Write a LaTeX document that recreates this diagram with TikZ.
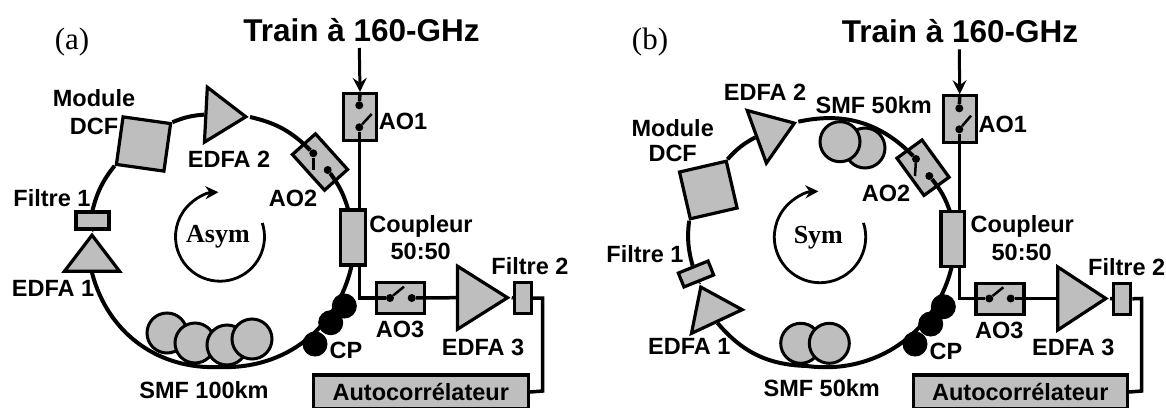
\documentclass[tikz,border=0pt]{standalone}
\usepackage{fontspec}
\setmainfont{Liberation Sans}
\newfontfamily\srf{Liberation Serif}
\usetikzlibrary{shapes.geometric,arrows.meta}
\definecolor{dev}{HTML}{BEBEBE}
\tikzset{
  lbl/.style={inner sep=0,text height=17pt,text depth=0pt,font=\fontsize{23.5}{26}\selectfont\bfseries},
  ttl/.style={inner sep=0,text height=22pt,text depth=0pt,font=\fontsize{31.5}{33}\selectfont\bfseries},
  panel/.style={inner sep=0,font=\srf\fontsize{31}{33}\selectfont},
  modelbl/.style={inner sep=0,font=\srf\fontsize{26}{28}\selectfont\bfseries},
  autolbl/.style={inner sep=0,text height=16.5pt,text depth=0pt,font=\fontsize{23.5}{25}\selectfont\bfseries},
  box/.style={draw,line width=3.2pt,fill=dev,inner sep=0,rectangle},
  tri/.style={draw,line width=3.2pt,fill=dev,inner sep=0,isosceles triangle,isosceles triangle stretches,anchor=apex},
  dotn/.style={circle,fill=black,inner sep=0,minimum size=8pt},
  fibre/.style={draw,line width=3pt,fill=dev,circle,inner sep=0,minimum size=40pt},
  pc/.style={circle,fill=black,draw,line width=1pt,inner sep=0,minimum size=24pt},
  ring/.style={line width=4pt},
  wire/.style={line width=3.5pt},
  lever/.style={line width=2.5pt},
  loopar/.style={line width=2.8pt,-{Stealth[length=13pt,width=13pt]}},
  inarrow/.style={line width=3pt,-{Stealth[length=14pt,width=14pt,inset=5pt]}},
}
\begin{document}
\begin{tikzpicture}[x=1pt,y=-1pt]
\useasboundingbox (0,0) rectangle (1166,407);
% ---------- panel (a) ----------
\node[panel] (pa) at (72,42) {(a)};
\node[ttl] (ta) at (361.5,30) {Train à 160-GHz};
\node[box,minimum width=48pt,minimum height=48pt,rotate=-8] (adcf) at (143.5,144) {};
\node[tri,minimum height=40pt,minimum width=55pt,rotate=-3] (ae2) at (250,117) {};
\node[tri,minimum height=36pt,minimum width=55pt,rotate=90] (ae1) at (92,231) {};
\node[tri,minimum height=50pt,minimum width=63pt] (ae3) at (511.7,297.7) {};
\node[box,minimum width=33pt,minimum height=17pt] (af1) at (92.5,220.5) {};
\node[box,minimum width=17pt,minimum height=31pt] (af2) at (523,298) {};
\node[box,minimum width=33pt,minimum height=47pt] (aa1) at (360,117) {};
\node[box,minimum width=48pt,minimum height=31pt,rotate=-48] (aa2) at (320,162) {};
\node[box,minimum width=48pt,minimum height=31pt] (aa3) at (400.8,298) {};
\node[box,minimum width=25pt,minimum height=55pt] (acp) at (353.3,237.5) {};
\node[box,minimum width=215pt,minimum height=34pt] (aac) at (420.8,392) {};
\node[dotn] (aa1u) at (359.3,105.3) {};
\node[dotn] (aa1l) at (359.3,127.3) {};
\node[dotn] (aa2u) at (313.3,153.3) {};
\node[dotn] (aa2l) at (327.7,170) {};
\node[dotn] (aa3l) at (390,298) {};
\node[dotn] (aa3r) at (411.7,298) {};
\coordinate (aa1t) at (371.7,114);
\coordinate (aa2t) at (313.3,170);
\coordinate (aa3t) at (404,286.7);
\coordinate (ain) at (359.3,48);
\coordinate (abot) at (220,367);
\coordinate (acl) at (348.3,210);
\coordinate (acr) at (351.7,265);
\coordinate (acout) at (359.3,265);
\coordinate (acb) at (359.3,298);
\coordinate (af2c) at (542.7,298);
\coordinate (af2d) at (542.7,391);
% ring
\draw[ring] (af1.north) to[bend left=12] (adcf.south west);
\draw[ring] (adcf.north east) to[bend left=9] (ae2.lower side);
\draw[ring] (ae2.apex) to[bend left=16] (aa2u);
\draw[ring] (aa2l) to[bend left=10] (acl);
\draw[ring] (acr) to[bend left=40] (abot);
\draw[ring] (abot) to[bend left=39] (ae1.lower side);
\draw[wire] (ae1.apex) -- (af1.south);
% wires
\draw[inarrow] (ain) -- (aa1.north);
\draw[wire] (aa1.north) -- (aa1u);
\draw[wire] (aa1l) -- (acl -| aa1l);
\draw[wire] (acout) -- (acb) -- (aa3l);
\draw[wire] (aa3r) -- (ae3.lower side);
\draw[wire] (ae3.apex) -- (af2.west);
\draw[wire] (af2.east) -- (af2c) -- (af2d) -- (aac.east);
\draw[lever] (aa1l) -- (aa1t);
\draw[lever] (aa2u) -- (aa2t);
\draw[lever] (aa3l) -- (aa3t);
% fibre spools
\node[fibre] (as1) at (167,333) {};
\node[fibre] (as2) at (195,343) {};
\node[fibre] (as3) at (227,345) {};
\node[fibre] (as4) at (252,339) {};
\node[pc] (ap1) at (344.3,306) {};
\node[pc] (ap2) at (330.7,322.7) {};
\node[pc] (ap3) at (315,344) {};
% loop
\node[modelbl] (asym) at (218,237) {Asym};
\draw[loopar] ([shift={(-18:44.5)}]220,236.7) arc[start angle=-18,end angle=268,radius=44.5];
% labels
\node[lbl] (lam) at (94,98) {Module};
\node[lbl] (lad) at (94,126) {DCF};
\node[lbl] (lae2) at (229,159) {EDFA 2};
\node[lbl] (laa2) at (293,198) {AO2};
\node[lbl] (laf1) at (52,198) {Filtre 1};
\node[lbl] (lae1) at (53,288) {EDFA 1};
\node[lbl] (las) at (204,390) {SMF 100km};
\node[lbl] (laa1) at (403,120.7) {AO1};
\node[lbl] (lac1) at (421,224) {Coupleur};
\node[lbl] (lac2) at (420.7,250.7) {50:50};
\node[lbl] (laf2) at (530,265.7) {Filtre 2};
\node[lbl] (laa3) at (400,329) {AO3};
\node[lbl] (lae3) at (483,346.7) {EDFA 3};
\node[lbl] (lacp) at (346,350) {CP};
\node[autolbl] (laac) at (420.8,392) {Autocorrélateur};
% ---------- panel (b) ----------
\node[panel] (pb) at (650,42) {(b)};
\node[ttl] (tb) at (960,31) {Train à 160-GHz};
\node[box,minimum width=48pt,minimum height=48pt,rotate=13] (bdcf) at (708.3,190) {};
\node[tri,minimum height=40pt,minimum width=56pt,rotate=20] (be2) at (798.3,121.7) {};
\node[tri,minimum height=38pt,minimum width=56pt,rotate=115] (be1) at (699,283.3) {};
\node[tri,minimum height=48pt,minimum width=63pt] (be3) at (1110,298.5) {};
\node[box,minimum width=32pt,minimum height=15pt,rotate=22] (bf1) at (696,274) {};
\node[box,minimum width=17pt,minimum height=31pt] (bf2) at (1122.3,298.8) {};
\node[box,minimum width=33pt,minimum height=47pt] (ba1) at (959.7,119.3) {};
\node[box,minimum width=46pt,minimum height=31pt,rotate=-54] (ba2) at (923,167.7) {};
\node[box,minimum width=48pt,minimum height=31pt] (ba3) at (1000,298.8) {};
\node[box,minimum width=23.3pt,minimum height=55pt] (bcp) at (952.7,239.2) {};
\node[box,minimum width=214pt,minimum height=34pt] (bac) at (1020.3,392) {};
\node[dotn] (ba1u) at (959.3,108.3) {};
\node[dotn] (ba1l) at (959.3,129.3) {};
\node[dotn] (ba2u) at (916,159) {};
\node[dotn] (ba2l) at (929.3,176) {};
\node[dotn] (ba3l) at (989.3,298.5) {};
\node[dotn] (ba3r) at (1010.7,298.5) {};
\coordinate (ba1t) at (971,115.7);
\coordinate (ba2t) at (915,176);
\coordinate (ba3t) at (1003.3,287.3);
\coordinate (bin) at (959.3,49.3);
\coordinate (bbot) at (807,366);
\coordinate (bcl) at (950,211.7);
\coordinate (bcr) at (951.7,266.7);
\coordinate (bcout) at (959.3,266.7);
\coordinate (bcb) at (959.3,298.5);
\coordinate (bf2c) at (1141.7,298.5);
\coordinate (bf2d) at (1141.7,391);
% ring
\draw[ring] (bf1.north) to[bend left=11] (bdcf.south west);
\draw[ring] (bdcf.north east) to[bend left=10] (be2.lower side);
\draw[ring] (be2.apex) to[bend left=29] (ba2u);
\draw[ring] (ba2l) to[bend left=10] (bcl);
\draw[ring] (bcr) to[bend left=42] (bbot);
\draw[ring] (bbot) to[bend left=24] (be1.lower side);
\draw[wire] (be1.apex) -- (bf1.south);
% wires
\draw[inarrow] (bin) -- (ba1.north);
\draw[wire] (ba1.north) -- (ba1u);
\draw[wire] (ba1l) -- (bcl -| ba1l);
\draw[wire] (bcout) -- (bcb) -- (ba3l);
\draw[wire] (ba3r) -- (be3.lower side);
\draw[wire] (be3.apex) -- (bf2.west);
\draw[wire] (bf2.east) -- (bf2c) -- (bf2d) -- (bac.east);
\draw[lever] (ba1l) -- (ba1t);
\draw[lever] (ba2u) -- (ba2t);
\draw[lever] (ba3l) -- (ba3t);
% fibre spools
\node[fibre] (bs2) at (865,148) {};
\node[fibre] (bs1) at (840,141.7) {};
\node[fibre] (bs3) at (800.7,343.3) {};
\node[fibre] (bs4) at (829.3,343.3) {};
\node[pc] (bp1) at (943.3,306.7) {};
\node[pc] (bp2) at (930.7,324) {};
\node[pc] (bp3) at (915,344) {};
% loop
\node[modelbl] (bsym) at (818.3,238) {Sym};
\draw[loopar] ([shift={(-18:45.7)}]820,237) arc[start angle=-18,end angle=268,radius=45.7];
% labels
\node[lbl] (lbm) at (672.7,128) {Module};
\node[lbl] (lbd) at (672.7,153) {DCF};
\node[lbl] (lbe2) at (765,91.7) {EDFA 2};
\node[lbl] (lbs1) at (873.7,105) {SMF 50km};
\node[lbl] (lba2) at (886,193) {AO2};
\node[lbl] (lbf1) at (645,254.3) {Filtre 1};
\node[lbl] (lbe1) at (689.3,346) {EDFA 1};
\node[lbl] (lbs) at (821.7,388) {SMF 50km};
\node[lbl] (lba1) at (1002.7,124) {AO1};
\node[lbl] (lbc1) at (1022.3,224) {Coupleur};
\node[lbl] (lbc2) at (1021.7,251.7) {50:50};
\node[lbl] (lbf2) at (1126.7,266.7) {Filtre 2};
\node[lbl] (lba3) at (999.3,330) {AO3};
\node[lbl] (lbe3) at (1073.3,346.7) {EDFA 3};
\node[lbl] (lbcp) at (946,350.7) {CP};
\node[autolbl] (lbac) at (1020.3,392) {Autocorrélateur};
\end{tikzpicture}
\end{document}
